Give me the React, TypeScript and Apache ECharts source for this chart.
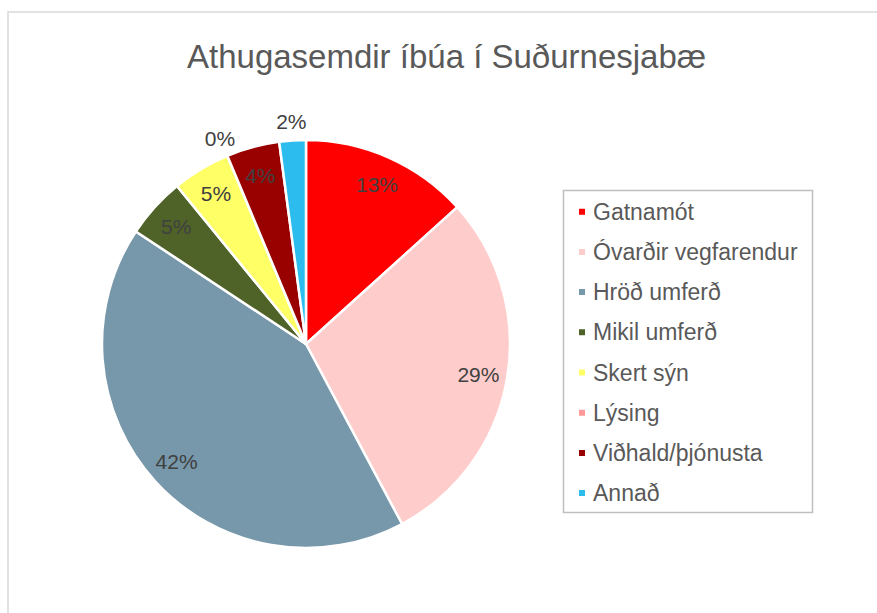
import React, { useEffect, useRef } from "react";
import * as echarts from "echarts";

const titleText = "Athugasemdir íbúa í Suðurnesjabæ";
const categories = [
  "Gatnamót",
  "Óvarðir vegfarendur",
  "Hröð umferð",
  "Mikil umferð",
  "Skert sýn",
  "Lýsing",
  "Viðhald/þjónusta",
  "Annað",
];
const values = [13.3, 28.9, 42.1, 4.8, 4.6, 0, 4.2, 2.1];
const colors = ["#ff0000", "#ffcccc", "#7797aa", "#4f6228", "#ffff66", "#ff9999", "#990000", "#2dbcee"];
const outsideLabel = [false, false, false, false, false, true, false, true];

const FONT = "'Liberation Sans', Arial, sans-serif";

export default function App() {
  const ref = useRef<HTMLDivElement>(null);
  useEffect(() => {
    if (!ref.current) return;
    const chart = echarts.init(ref.current, undefined, { renderer: "svg" });
    const cx = 306;
    const cy = 344;
    const R = 204;
    const labelStyle = { color: "#404040", fontSize: 21, fontFamily: FONT };
    const mainData = categories.map((name, i) => ({
      name,
      value: values[i],
      itemStyle: { color: colors[i] },
    }));
    const innerData = categories.map((name, i) => ({
      name,
      value: values[i],
      label: { show: !outsideLabel[i] },
    }));
    const outerData = categories.map((name, i) => ({
      name,
      value: values[i],
      label: { show: outsideLabel[i] },
    }));
    const ghost = {
      type: "pie" as const,
      center: [cx, cy],
      startAngle: 90,
      clockwise: true,
      silent: true,
      percentPrecision: 0,
      avoidLabelOverlap: false,
      itemStyle: { color: "rgba(0,0,0,0)", borderWidth: 0 },
      emphasis: { disabled: true },
      labelLine: { show: false },
      label: {
        position: "inside" as const,
        formatter: "{d}%",
        ...labelStyle,
      },
    };
    chart.setOption({
      animation: false,
      backgroundColor: "#ffffff",
      title: {
        text: titleText,
        left: 187,
        top: 40,
        padding: 0,
        textStyle: { color: "#595959", fontSize: 33, fontWeight: "normal", fontFamily: FONT },
      },
      legend: {
        orient: "vertical",
        left: 577,
        top: 200.2,
        padding: 0,
        itemWidth: 8,
        itemHeight: 8,
        itemGap: 17.2,
        icon: "rect",
        data: categories,
        textStyle: { color: "#595959", fontSize: 23, fontFamily: FONT, lineHeight: 23, padding: [0, 0, 0, 2] },
        selectedMode: false,
      },
      graphic: [
        {
          type: "rect",
          shape: { x: 8, y: 12, width: 900, height: 700 },
          style: { fill: "none", stroke: "#d9d9d9", lineWidth: 1.5 },
          silent: true,
        },
        {
          type: "rect",
          shape: { x: 563.5, y: 190.5, width: 249, height: 322 },
          style: { fill: "none", stroke: "#bfbfbf", lineWidth: 1.5 },
          silent: true,
        },
      ],
      series: [
        {
          type: "pie",
          radius: R,
          center: [cx, cy],
          startAngle: 90,
          clockwise: true,
          percentPrecision: 0,
          avoidLabelOverlap: false,
          label: { show: false },
          labelLine: { show: false },
          itemStyle: { borderColor: "#ffffff", borderWidth: 2.5 },
          emphasis: { disabled: true },
          data: mainData,
        },
        { ...ghost, radius: [140, R], data: innerData },
        { ...ghost, radius: [R, 236], data: outerData },
      ],
    });
    return () => chart.dispose();
  }, []);
  return (
    <div
      ref={ref}
      style={{ position: "fixed", left: 0, top: 0, width: 877, height: 613 }}
    />
  );
}
